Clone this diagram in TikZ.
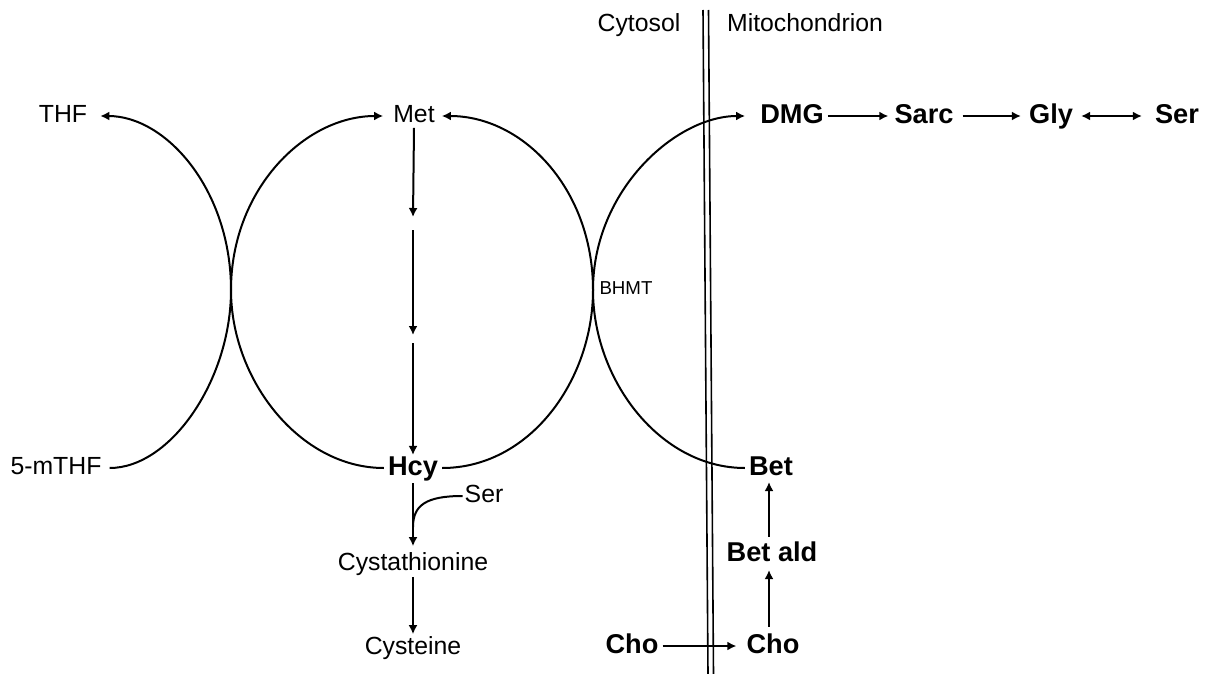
\documentclass[tikz,border=0pt]{standalone}
\usepackage{fontspec}
\setmainfont{Liberation Sans}
\usetikzlibrary{arrows.meta}
\begin{document}
\begin{tikzpicture}[x=1pt,y=-1pt,
  lbl/.style={inner xsep=4pt, inner ysep=0pt, text height=18.4pt, text depth=4.9pt, yshift=-2pt, font=\fontsize{24.8}{28}\selectfont},
  blbl/.style={inner xsep=4pt, inner ysep=0pt, text height=20.3pt, text depth=5.4pt, yshift=-2pt, font=\fontsize{27.2}{30}\selectfont\bfseries},
  arr/.style={line width=2pt, -{Latex[length=9pt,width=9pt]}},
  darr/.style={line width=2pt, {Latex[length=9pt,width=9pt]}-{Latex[length=9pt,width=9pt]}},
  ln/.style={line width=2pt},
  mem/.style={line width=1.6pt}]
\useasboundingbox (0,0) rectangle (1208,674);
% labels
\node[lbl] (thf) at (63,114) {THF};
\node[lbl] (met) at (414,114) {Met};
\node[lbl] (mthf) at (56,466) {5-mTHF};
\node[blbl] (hcy) at (413,466) {Hcy};
\node[lbl] (sers) at (484,494) {Ser};
\node[lbl] (cyst) at (413,562) {Cystathionine};
\node[lbl] (cys) at (413,646) {Cysteine};
\node[lbl] (cyto) at (639,23) {Cytosol};
\node[lbl] (mito) at (805,23) {Mitochondrion};
\node[lbl, text height=13.5pt, text depth=3.6pt, font=\fontsize{18.7}{20}\selectfont] (bhmt) at (626,288) {BHMT};
\node[blbl] (dmg) at (792,114) {DMG};
\node[blbl] (sarc) at (924,114) {Sarc};
\node[blbl] (gly) at (1051,114) {Gly};
\node[blbl] (ser) at (1177,114) {Ser};
\node[blbl] (bet) at (771,466) {Bet};
\node[blbl] (betald) at (772,552) {Bet ald};
\node[blbl] (cho1) at (632,644) {Cho};
\node[blbl] (cho2) at (773,644) {Cho};
% membrane
\coordinate (mt1) at (703,10); \coordinate (mb1) at (708,674);
\coordinate (mt2) at (708.5,10); \coordinate (mb2) at (713.5,674);
\draw[mem] (mt1) -- (mb1);
\draw[mem] (mt2) -- (mb2);
% crossing points
\coordinate (xl) at (231,290);
\coordinate (xr) at (593,290);
% arcs
\draw[arr, shorten >=9pt, shorten <=4pt] (mthf.east) .. controls +(65,0) and +(0,90) .. (xl) .. controls +(0,-100) and +(75,0) .. (thf.east);
\draw[arr, shorten >=6pt] (hcy.west) .. controls +(-84,0) and +(0,90) .. (xl) .. controls +(0,-100) and +(-85,0) .. (met.west);
\draw[arr, shorten >=3pt] (hcy.east) .. controls +(88,0) and +(0,90) .. (xr) .. controls +(0,-100) and +(85,0) .. (met.east);
\draw[arr, shorten >=11pt] (bet.west) .. controls +(-85,0) and +(0,90) .. (xr) .. controls +(0,-100) and +(-80,0) .. (dmg.west);
% Met -> Hcy chain
\coordinate (m1) at (413,217);
\coordinate (m1b) at (413,230);
\coordinate (m2) at (413,335);
\coordinate (m2b) at (413,343);
\draw[arr] (met.south) -- (m1);
\draw[arr] (m1b) -- (m2);
\draw[arr] (m2b) -- (hcy.north);
% transsulfuration
\coordinate (j) at (413,527);
\draw[arr, shorten <=2pt, shorten >=6pt] (hcy.south) -- (cyst.north);
\draw[ln] ([xshift=2pt]sers.west) .. controls +(-36,0) and +(0,-22) .. (j);
\draw[arr, shorten <=1pt, shorten >=2pt] (cyst.south) -- (cys.north);
% mitochondrial row
\draw[arr, shorten >=2pt] (dmg.east) -- (sarc.west);
\draw[arr, shorten <=5pt, shorten >=4pt] (sarc.east) -- (gly.west);
\draw[darr, shorten <=4pt, shorten >=9pt] (gly.east) -- (ser.west);
% choline
\draw[arr, shorten >=6pt] (cho1.east) -- (cho2.west);
\draw[arr, shorten <=6pt, shorten >=3pt] ([xshift=-4pt]cho2.north) -- ([xshift=-3pt]betald.south);
\draw[arr, shorten <=4pt, shorten >=1pt] ([xshift=-3pt]betald.north) -- ([xshift=-2pt]bet.south);
\end{tikzpicture}
\end{document}
